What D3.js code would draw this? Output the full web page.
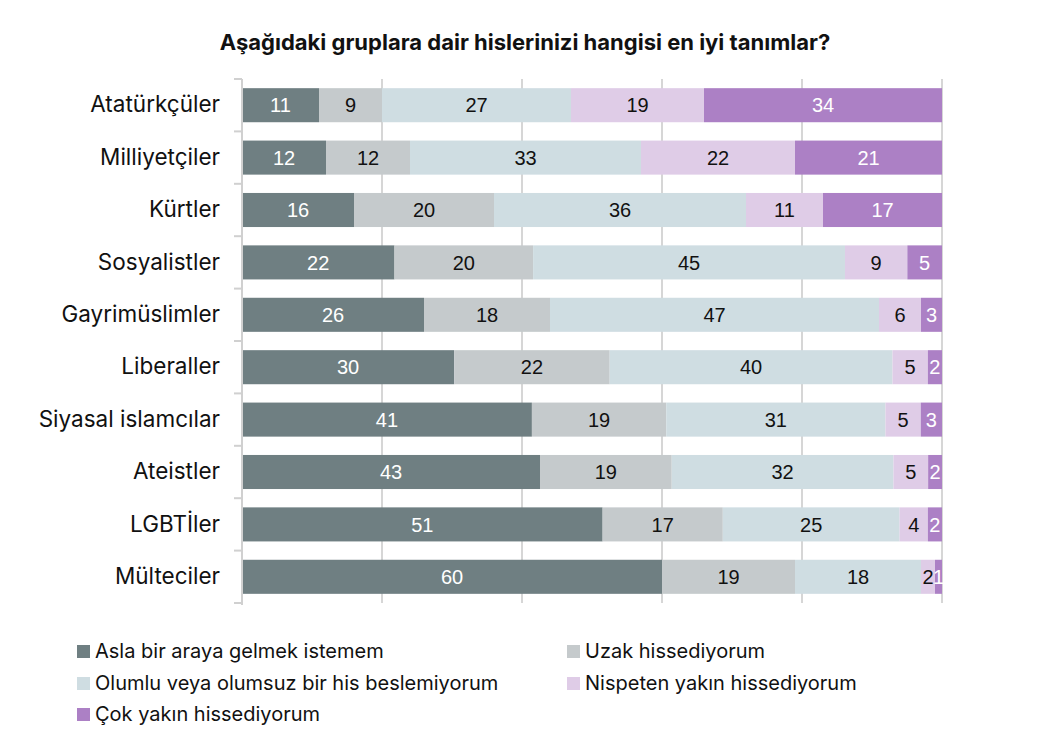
<!DOCTYPE html>
<html>
<head>
<meta charset="utf-8">
<script src="https://cdn.jsdelivr.net/npm/d3@7"></script>
<style>
  body { margin: 0; background: #fff; }
</style>
</head>
<body>
<div id="chart"></div>
<script>
(function () {
  // data
  var groups = ['Atatürkçüler', 'Milliyetçiler', 'Kürtler', 'Sosyalistler', 'Gayrimüslimler',
    'Liberaller', 'Siyasal islamcılar', 'Ateistler', 'LGBTİler', 'Mülteciler']
  var seriesNames = ['Asla bir araya gelmek istemem', 'Uzak hissediyorum',
    'Olumlu veya olumsuz bir his beslemiyorum', 'Nispeten yakın hissediyorum', 'Çok yakın hissediyorum']
  var asla = [11, 12, 16, 22, 26, 30, 41, 43, 51, 60]
  var uzak = [9, 12, 20, 20, 18, 22, 19, 19, 17, 19]
  var olumlu = [27, 33, 36, 45, 47, 40, 31, 32, 25, 18]
  var nispeten = [19, 22, 11, 9, 6, 5, 5, 5, 4, 2]
  var cokYakin = [34, 21, 17, 5, 3, 2, 3, 2, 2, 1]
  var xTicks = [0, 0.2, 0.4, 0.6, 0.8, 1]

  var colors = ['#6f7f82', '#c5cacc', '#cfdde2', '#dfcce7', '#ac80c5']
  var textColors = ['#fff', '#111', '#111', '#111', '#fff']

  var seriesValues = [asla, uzak, olumlu, nispeten, cokYakin]
  var rows = groups.map(function (g, i) {
    var r = { group: g }
    seriesNames.forEach(function (s, j) { r[s] = seriesValues[j][i] })
    return r
  })

  var width = 1062
  var height = 739
  var margin = { top: 79, left: 242, right: 120, bottom: 136 }

  var svg = d3.select('#chart')
    .append('svg')
    .attr('width', width)
    .attr('height', height)

  var xScale = d3.scaleLinear()
    .domain([0, 1])
    .range([margin.left, width - margin.right])
  var yScale = d3.scaleBand()
    .domain(groups)
    .range([margin.top, height - margin.bottom])
    .paddingInner(0.35)
    .paddingOuter(0.175)

  var stack = d3.stack()
    .keys(seriesNames)
    .offset(d3.stackOffsetExpand)
  var stacked = stack(rows)

  // title
  svg.append('text')
    .attr('x', 525)
    .attr('y', 50)
    .attr('text-anchor', 'middle')
    .style('font-family', 'Inter, sans-serif')
    .style('font-size', '22px')
    .style('font-weight', 'bold')
    .attr('fill', '#111')
    .text('Aşağıdaki gruplara dair hislerinizi hangisi en iyi tanımlar?')

  // vertical grid lines
  svg.append('g')
    .selectAll('line')
    .data(xTicks.slice(1))
    .enter()
    .append('line')
    .attr('x1', d => xScale(d))
    .attr('x2', d => xScale(d))
    .attr('y1', margin.top)
    .attr('y2', height - margin.bottom)
    .attr('stroke', '#d6d6d6')
    .attr('stroke-width', 2)

  // bars
  var layer = svg.append('g')
    .selectAll('g')
    .data(stacked)
    .enter()
    .append('g')
    .attr('fill', (d, i) => colors[i])

  layer.selectAll('rect')
    .data(d => d)
    .enter()
    .append('rect')
    .attr('x', d => xScale(d[0]))
    .attr('width', d => xScale(d[1]) - xScale(d[0]))
    .attr('y', d => yScale(d.data.group))
    .attr('height', yScale.bandwidth())

  // value labels
  stacked.forEach(function (s, i) {
    svg.append('g')
      .selectAll('text')
      .data(s)
      .enter()
      .append('text')
      .attr('x', d => (xScale(d[0]) + xScale(d[1])) / 2)
      .attr('y', d => yScale(d.data.group) + yScale.bandwidth() / 2)
      .attr('dy', '0.36em')
      .attr('text-anchor', 'middle')
      .style('font-family', '"Liberation Sans", Arial, sans-serif')
      .style('font-size', '20px')
      .attr('fill', textColors[i])
      .text(d => d.data[s.key])
  })

  // y axis
  var yAxis = d3.axisLeft(yScale).tickSize(0).tickPadding(22)
  var yg = svg.append('g')
    .attr('transform', 'translate(' + margin.left + ',0)')
    .call(yAxis)
  yg.select('.domain').remove()
  yg.selectAll('text')
    .style('font-size', '22.5px')
    .style('font-family', 'Inter, sans-serif')
    .attr('fill', '#111')

  // axis line and category separator ticks
  svg.append('line')
    .attr('x1', margin.left)
    .attr('x2', margin.left)
    .attr('y1', margin.top)
    .attr('y2', height - margin.bottom + 2)
    .attr('stroke', '#d0d0d0')
    .attr('stroke-width', 2)
  var step = yScale.step()
  var bounds = d3.range(groups.length + 1).map(i => margin.top + i * step)
  svg.append('g')
    .selectAll('line')
    .data(bounds)
    .enter()
    .append('line')
    .attr('x1', margin.left - 8)
    .attr('x2', margin.left)
    .attr('y1', d => d)
    .attr('y2', d => d)
    .attr('stroke', '#d0d0d0')
    .attr('stroke-width', 2)

  // legend
  var legendPos = [[77, 651], [567, 651], [77, 683], [567, 683], [77, 714]]
  var legend = svg.append('g')
    .selectAll('g')
    .data(seriesNames)
    .enter()
    .append('g')
    .attr('transform', (d, i) => 'translate(' + legendPos[i][0] + ',' + legendPos[i][1] + ')')
  legend.append('rect')
    .attr('x', 0)
    .attr('y', -6)
    .attr('width', 13)
    .attr('height', 13)
    .attr('fill', (d, i) => colors[i])
  legend.append('text')
    .attr('x', 18)
    .attr('y', 0)
    .attr('dy', '0.35em')
    .style('font-size', '20px')
    .style('font-family', 'Inter, sans-serif')
    .attr('fill', '#111')
    .text(d => d)
})()
</script>
</body>
</html>
